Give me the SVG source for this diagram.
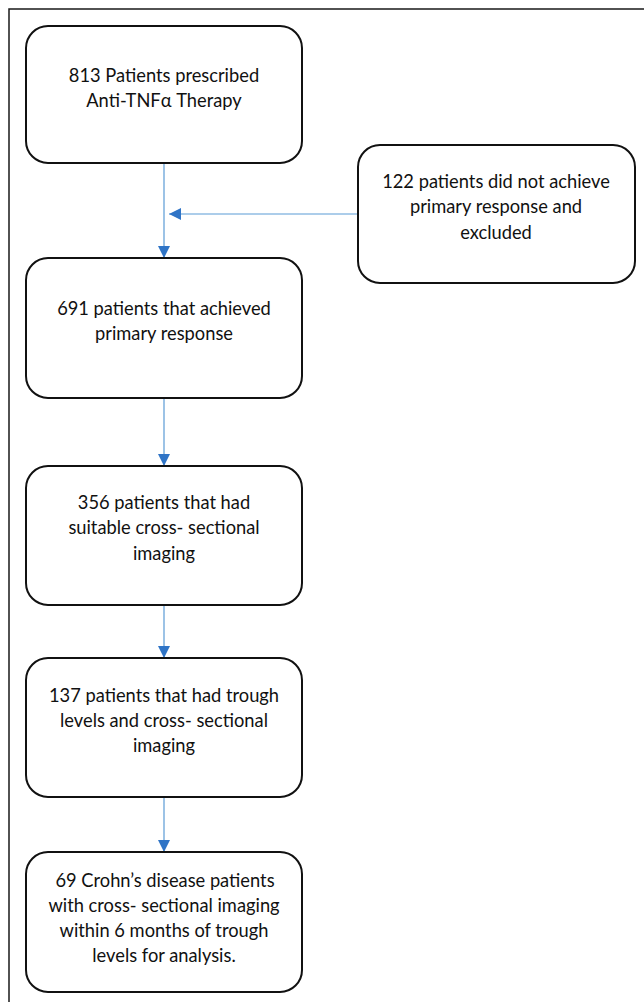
<svg xmlns="http://www.w3.org/2000/svg" width="644" height="1002" viewBox="0 0 644 1002">
  <defs>
    <marker id="arrow" markerUnits="userSpaceOnUse" markerWidth="12" markerHeight="12" viewBox="0 0 10 10" refX="10" refY="5" orient="auto">
      <path d="M0,0 L10,5 L0,10 Z" fill="#2f74c6"/>
    </marker>
    <style>
      .box { fill: #ffffff; stroke: #111111; stroke-width: 2; }
      .lbl { font-family: Lato, "Liberation Sans", sans-serif; font-size: 18.3px; fill: #111111; text-anchor: middle; }
      .conn { stroke: #5b9bd5; stroke-width: 1.2; fill: none; marker-end: url(#arrow); }
    </style>
  </defs>
  <rect x="0" y="0" width="644" height="1002" fill="#ffffff"/>
  <rect x="9" y="9" width="700" height="1100" fill="none" stroke="#1a1a1a" stroke-width="1.5"/>

  <g id="connectors">
    <line class="conn" x1="164" y1="163" x2="164" y2="258"/>
    <line class="conn" x1="358" y1="214" x2="169" y2="214"/>
    <line class="conn" x1="164" y1="398" x2="164" y2="466"/>
    <line class="conn" x1="164" y1="605" x2="164" y2="658"/>
    <line class="conn" x1="164" y1="797" x2="164" y2="852"/>
  </g>

  <g id="node1">
    <rect class="box" x="26" y="26" width="276" height="137" rx="22" ry="22"/>
    <text class="lbl" x="164" y="82">813 Patients prescribed</text>
    <text class="lbl" x="164" y="107">Anti-TNFα Therapy</text>
  </g>

  <g id="node-excluded">
    <rect class="box" x="358" y="145" width="277" height="138" rx="22" ry="22"/>
    <text class="lbl" x="496" y="188">122 patients did not achieve</text>
    <text class="lbl" x="496" y="213">primary response and</text>
    <text class="lbl" x="496" y="239">excluded</text>
  </g>

  <g id="node2">
    <rect class="box" x="26" y="258" width="276" height="140" rx="22" ry="22"/>
    <text class="lbl" x="164" y="315">691 patients that achieved</text>
    <text class="lbl" x="164" y="340">primary response</text>
  </g>

  <g id="node3">
    <rect class="box" x="26" y="466" width="276" height="139" rx="22" ry="22"/>
    <text class="lbl" x="164" y="509">356 patients that had</text>
    <text class="lbl" x="164" y="534">suitable cross- sectional</text>
    <text class="lbl" x="164" y="560">imaging</text>
  </g>

  <g id="node4">
    <rect class="box" x="26" y="658" width="276" height="139" rx="22" ry="22"/>
    <text class="lbl" x="164" y="702">137 patients that had trough</text>
    <text class="lbl" x="164" y="727">levels and cross- sectional</text>
    <text class="lbl" x="164" y="752">imaging</text>
  </g>

  <g id="node5">
    <rect class="box" x="26" y="852" width="276" height="140" rx="22" ry="22"/>
    <text class="lbl" x="165" y="887">69 Crohn’s disease patients</text>
    <text class="lbl" x="164" y="912">with cross- sectional imaging</text>
    <text class="lbl" x="164" y="937">within 6 months of trough</text>
    <text class="lbl" x="164" y="962">levels for analysis.</text>
  </g>
</svg>
